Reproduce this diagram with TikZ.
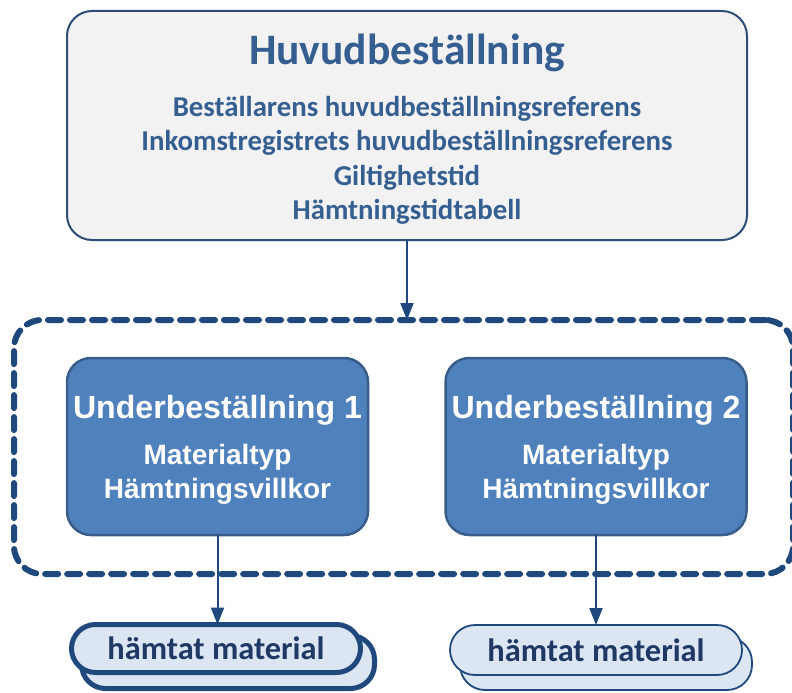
\documentclass[tikz,border=0pt]{standalone}
\usepackage{fontspec}
\setmainfont{Carlito}
\newfontfamily\arialf{Liberation Sans}
\usetikzlibrary{arrows.meta}
\definecolor{navy}{HTML}{1F497D}
\definecolor{topborder}{HTML}{2C4D75}
\definecolor{topfill}{HTML}{F2F2F2}
\definecolor{toptext}{HTML}{365F91}
\definecolor{subfill}{HTML}{4F81BD}
\definecolor{subborder}{HTML}{385D8A}
\definecolor{capfill}{HTML}{DCE6F2}
\definecolor{captext}{HTML}{1F3864}
\begin{document}
\begin{tikzpicture}[x=1pt,y=-1pt,
  mainbox/.style={draw=topborder, line width=2pt, fill=topfill, rounded corners=25pt, inner sep=0pt, outer sep=0pt},
  groupbox/.style={draw=navy, line width=6pt, dash pattern=on 13pt off 9pt, line cap=round, rounded corners=28pt, inner sep=0pt, outer sep=0pt},
  subbox/.style={draw=subborder, line width=2.5pt, fill=subfill, rounded corners=24pt, inner sep=0pt, outer sep=0pt, minimum width=301pt, minimum height=177pt},
  capthick/.style={draw=navy, line width=5pt, fill=capfill, rounded corners=24pt, inner sep=0pt, outer sep=0pt},
  capthin/.style={draw=navy, line width=1.8pt, fill=capfill, rounded corners=25pt, inner sep=0pt, outer sep=0pt},
  titletext/.style={text=toptext, font=\fontsize{43.5}{50}\selectfont\bfseries, inner sep=0pt, anchor=base},
  toptextst/.style={text=toptext, font=\fontsize{28.8}{34}\selectfont\bfseries, inner sep=0pt, anchor=base},
  subtitle/.style={text=white, font=\arialf\fontsize{32.1}{36}\selectfont\bfseries, inner sep=0pt, anchor=base},
  subtext/.style={text=white, font=\arialf\fontsize{28}{32}\selectfont\bfseries, inner sep=0pt, anchor=base},
  captextst/.style={text=captext, font=\fontsize{32.4}{36}\selectfont\bfseries, inner sep=0pt, anchor=base},
  conn/.style={draw=navy, line width=2pt, -{Triangle[width=13pt,length=17pt]}}
]
\useasboundingbox (0,0) rectangle (792,693);

% top box
\node[mainbox, minimum width=680pt, minimum height=229pt] (top) at (407,125.5) {};
\node[titletext] (title) at (407,64) {Huvudbeställning};
\node[toptextst] (l1) at (407,116) {Beställarens huvudbeställningsreferens};
\node[toptextst] (l2) at (407,150.5) {Inkomstregistrets huvudbeställningsreferens};
\node[toptextst] (l3) at (407,185) {Giltighetstid};
\node[toptextst] (l4) at (407,219.5) {Hämtningstidtabell};

% dashed group
\node[groupbox, minimum width=779pt, minimum height=254pt] (group) at (403.5,447) {};

% sub boxes
\node[subbox] (sub1) at (217.5,446.5) {};
\node[subbox] (sub2) at (596,446.5) {};
\node[subtitle] (s1t) at (217.5,418) {Underbeställning 1};
\node[subtext] (s1a) at (217.5,464) {Materialtyp};
\node[subtext] (s1b) at (217.5,498) {Hämtningsvillkor};
\node[subtitle] (s2t) at (596,418) {Underbeställning 2};
\node[subtext] (s2a) at (596,464) {Materialtyp};
\node[subtext] (s2b) at (596,498) {Hämtningsvillkor};

% bottom stacks
\node[capthick, minimum width=293pt, minimum height=53pt] (b1back) at (228,662) {};
\node[capthick, minimum width=289pt, minimum height=48pt] (b1) at (216,648.5) {};
\node[captextst] (b1t) at (216,659.5) {hämtat material};
\node[capthin, minimum width=292pt, minimum height=53pt] (b2back) at (606,663.5) {};
\node[capthin, minimum width=292pt, minimum height=50pt] (b2) at (596,650) {};
\node[captextst] (b2t) at (596,661.5) {hämtat material};

% connectors
\draw[conn] (top.south) -- (top.south |- group.north);
\draw[conn] (sub1.south) -- (sub1.south |- b1.north);
\draw[conn] (sub2.south) -- (sub2.south |- b2.north);
\end{tikzpicture}
\end{document}
